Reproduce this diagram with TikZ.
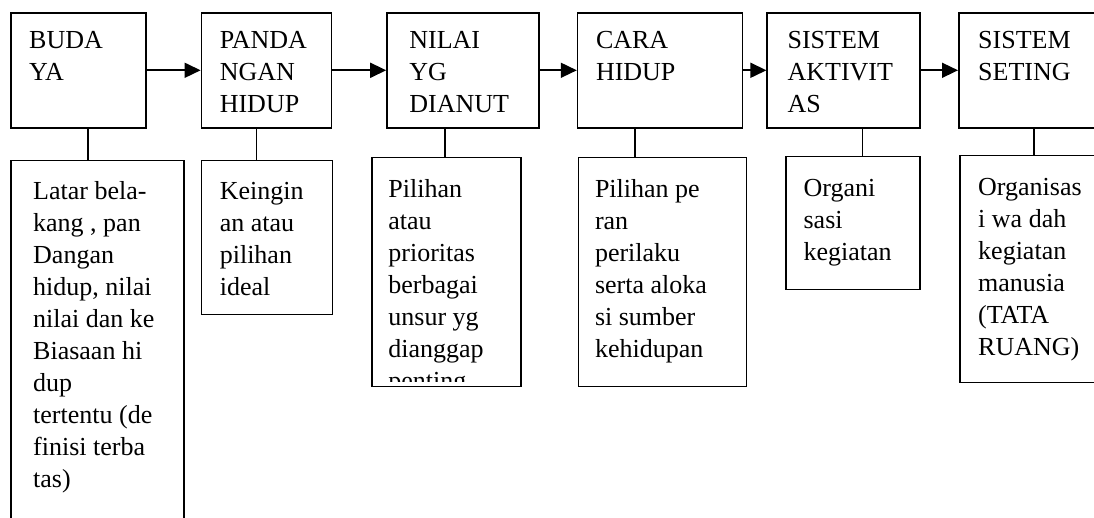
\documentclass[tikz,border=0pt]{standalone}
\usepackage{fontspec}
\setmainfont{Liberation Serif}
\usetikzlibrary{arrows.meta, positioning}

\begin{document}
\begin{tikzpicture}[
      font=\fontsize{26}{32}\selectfont,
      head/.style={draw, line width=1.6pt, minimum width=#1,
                   minimum height=115pt, inner sep=0pt},
      note/.style 2 args={draw, line width=1.6pt, minimum width=#1,
                   minimum height=#2, inner sep=0pt},
      txt/.style={inner sep=0pt, align=left},
      flow/.style={-{Triangle[length=16pt, width=15pt]}, line width=1.6pt},
      link/.style={line width=1.6pt},
    ]
      \useasboundingbox (0,0) rectangle (1094pt,-518pt);

      % main chain
      \node[head=135pt, anchor=north west] (budaya) at (10pt,-12pt) {};
      \node[head=130pt, right=54pt of budaya] (pandangan) {};
      \node[head=152pt, right=54pt of pandangan] (nilai) {};
      \node[head=165pt, right=37pt of nilai] (cara) {};
      \node[head=153pt, right=23pt of cara] (aktivitas) {};
      \node[head=170pt, right=37pt of aktivitas] (seting) {};

      \node[txt, below right=19pt and 19pt of budaya.north west] (budayatxt) {BUDA\\YA};
      \node[txt, below right=19pt and 19pt of pandangan.north west] (pandangantxt) {PANDA\\NGAN\\HIDUP};
      \node[txt, below right=19pt and 23pt of nilai.north west] (nilaitxt) {NILAI\\YG\\DIANUT};
      \node[txt, below right=19pt and 19pt of cara.north west] (caratxt) {CARA\\HIDUP};
      \node[txt, below right=19pt and 21pt of aktivitas.north west] (aktivitastxt) {SISTEM\\AKTIVIT\\AS};
      \node[txt, below right=19pt and 20pt of seting.north west] (setingtxt) {SISTEM\\SETING};

      \foreach \a/\b in {budaya/pandangan, pandangan/nilai, nilai/cara,
                         cara/aktivitas, aktivitas/seting}
        \draw[flow] (\a) -- (\b);

      % descriptions
      \node[note={173pt}{380pt}, below right=31pt and 0pt of budaya.south west] (latar) {};
      \node[note={131pt}{154pt}, below right=31pt and 0pt of pandangan.south west] (keingin) {};
      \node[note={149pt}{229pt}, below right=28pt and -15pt of nilai.south west] (pilihan) {};
      \node[note={168pt}{229pt}, below right=28pt and 1pt of cara.south west] (peran) {};
      \node[note={134pt}{133pt}, below right=27pt and 19pt of aktivitas.south west] (organi) {};
      \node[note={170pt}{227pt}, below right=26pt and 1pt of seting.south west] (wadah) {};

      \node[txt, below right=22pt and 23pt of latar.north west] (latartxt)
        {Latar bela-\\kang , pan\\Dangan\\hidup, nilai\\nilai dan ke\\Biasaan hi\\dup\\tertentu (de\\finisi terba\\tas)};
      \node[txt, below right=22pt and 19pt of keingin.north west] (keingintxt)
        {Keingin\\an atau\\pilihan\\ideal};
      \begin{scope}
        \clip (pilihan.north west) rectangle ([yshift=6pt]pilihan.south east);
        \node[txt, below right=23pt and 17pt of pilihan.north west] (pilihantxt)
          {Pilihan\\atau\\prioritas\\berbagai\\unsur yg\\dianggap\\penting};
      \end{scope}
      \node[txt, below right=23pt and 17pt of peran.north west] (perantxt)
        {Pilihan pe\\ran\\perilaku\\serta aloka\\si sumber\\kehidupan};
      \node[txt, below right=23pt and 18pt of organi.north west] (organitxt)
        {Organi\\sasi\\kegiatan};
      \node[txt, below right=23pt and 19pt of wadah.north west] (wadahtxt)
        {Organisas\\i wa dah\\kegiatan\\manusia\\(TATA\\RUANG)};

      \foreach \a/\b/\dx in {budaya/latar/78, pandangan/keingin/56, nilai/pilihan/59,
                             cara/peran/58, aktivitas/organi/96, seting/wadah/76}
        \draw[link] ([xshift=\dx pt]\a.south west) -- ([xshift=\dx pt]\a.south west |- \b.north);
    \end{tikzpicture}
\end{document}
